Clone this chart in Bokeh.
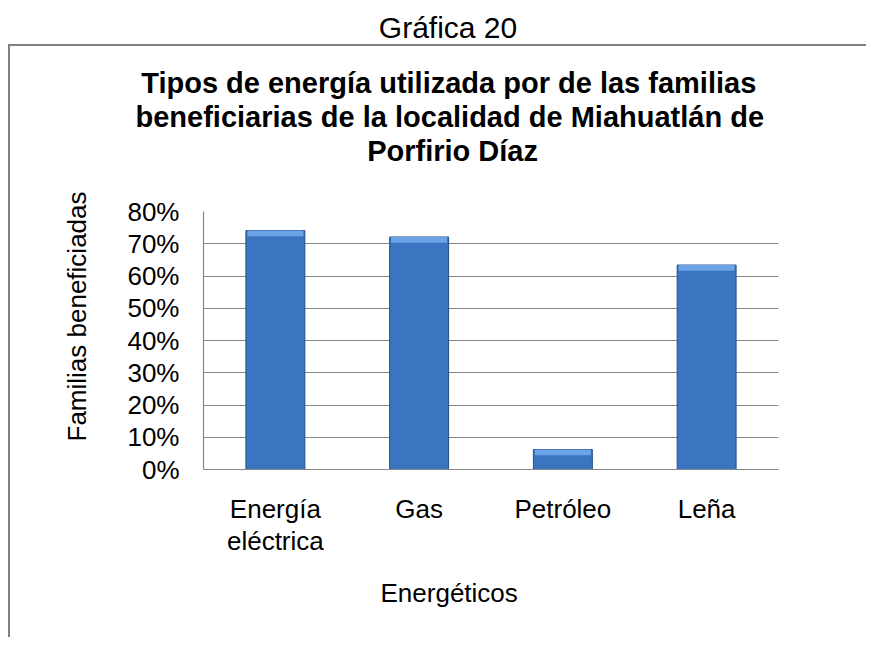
from bokeh.plotting import figure
from bokeh.models import (FactorRange, Range1d, FixedTicker, NumeralTickFormatter,
                          Title, ColumnDataSource)
from bokeh.embed import file_html
from bokeh.resources import INLINE

# ---- data ----
categories = ["Energía\neléctrica", "Gas", "Petróleo", "Leña"]
values = [0.741, 0.721, 0.062, 0.634]
y_ticks = [0.0, 0.1, 0.2, 0.3, 0.4, 0.5, 0.6, 0.7, 0.8]
header_text = "Gráfica 20"
title_lines = ["Tipos de energía utilizada por de las familias",
               "beneficiarias de la localidad de Miahuatlán de",
               "Porfirio Díaz"]
y_title = "Familias beneficiadas"
x_title = "Energéticos"

FONT = "Liberation Sans"
GRAY = "#868686"

W, H = 866, 637
p = figure(width=W, height=H, x_range=FactorRange(*categories, range_padding=0),
           y_range=Range1d(0, 0.8), output_backend="svg", toolbar_location=None,
           min_border_left=203, min_border_right=88, min_border_top=211,
           min_border_bottom=168)
p.outline_line_color = None
p.background_fill_color = "white"
p.border_fill_color = None
# outer chart border (left and top edges of the chart area)
p.styles = {
    "background-color": "white",
    "background-image": "linear-gradient(#808080, #808080), linear-gradient(#808080, #808080)",
    "background-size": "2px 100%, 100% 2px",
    "background-position": "8px 44px, 8px 44px",
    "background-repeat": "no-repeat",
}

src = ColumnDataSource(dict(cat=categories, val=values,
                            bev=[v - 0.018 for v in values]))
p.vbar(x="cat", top="val", bottom=0, width=0.41, source=src,
       fill_color="#3b74c0", line_color="#264f86", line_width=1)
p.vbar(x="cat", top="val", bottom="bev", width=0.39, source=src,
       fill_color="#6aa3e6", line_color=None)

# axes
p.yaxis.ticker = FixedTicker(ticks=y_ticks)
p.yaxis.formatter = NumeralTickFormatter(format="0%")
for ax in (p.xaxis[0], p.yaxis[0]):
    ax.axis_line_color = GRAY
    ax.axis_line_width = 1.2
    ax.major_tick_line_color = None
    ax.minor_tick_line_color = None
    ax.major_tick_out = 0
    ax.major_tick_in = 0
    ax.major_label_text_font = FONT
    ax.major_label_text_font_size = "26px"
    ax.major_label_text_color = "black"
p.yaxis.major_label_standoff = 24
p.xaxis.major_label_standoff = 24
p.xaxis.major_label_text_line_height = 1.07

p.xgrid.grid_line_color = None
p.ygrid.grid_line_color = GRAY
p.ygrid.grid_line_width = 1.2

def spacer(side, standoff):
    p.add_layout(Title(text=" ", text_font=FONT, text_font_size="10px",
                       standoff=standoff), side)

# titles above (listed from the frame outward)
spacer("above", 31.7)
for line, off in zip(reversed(title_lines), [163.7, -68.0, -62.3]):
    p.add_layout(Title(text=line, text_font=FONT, text_font_size="29px",
                       text_font_style="bold", align="left", offset=off,
                       vertical_align="bottom", standoff=0,
                       text_color="black"), "above")
spacer("above", 7.6)
p.add_layout(Title(text=header_text, text_font=FONT, text_font_size="30px",
                   text_font_style="normal", align="left", offset=175.3,
                   vertical_align="bottom", standoff=0, text_color="black"), "above")

# y-axis title
p.add_layout(Title(text=y_title, text_font=FONT, text_font_size="26px",
                   text_font_style="normal", align="left", offset=28,
                   vertical_align="bottom", standoff=66, text_color="black"), "left")

# x-axis title
p.add_layout(Title(text=x_title, text_font=FONT, text_font_size="26px",
                   text_font_style="normal", align="left", offset=177,
                   vertical_align="top", standoff=38, text_color="black"), "below")

open("out.html", "w").write(file_html(p, INLINE))
